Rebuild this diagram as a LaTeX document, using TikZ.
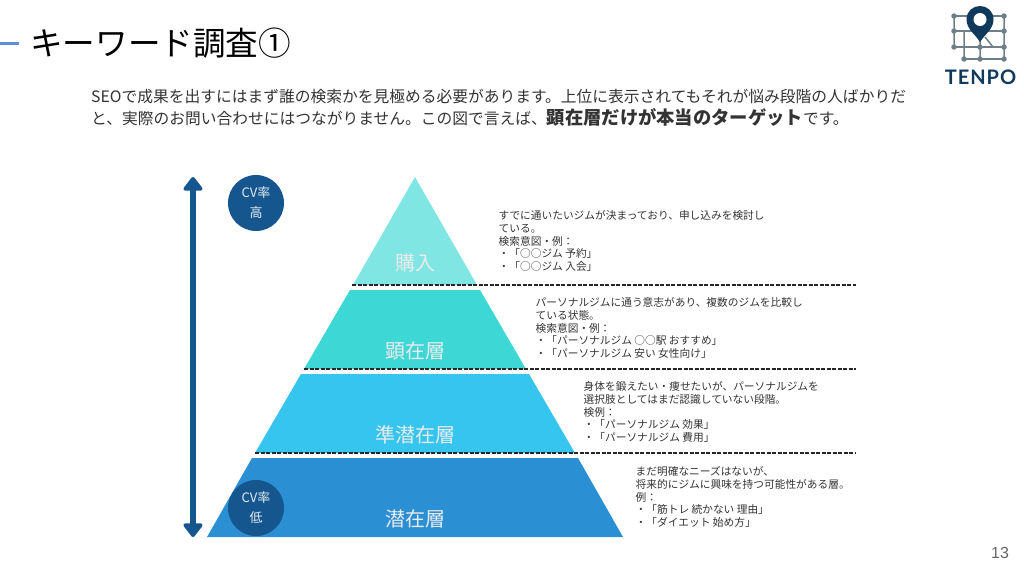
\documentclass[tikz,border=0pt]{standalone}
\usepackage{fontspec}
\setmainfont{Noto Sans CJK JP}
\newfontfamily\logofont[LetterSpace=5]{Lato}
\newfontfamily\numfont{Liberation Sans}
\usetikzlibrary{arrows.meta}
\definecolor{navy}{HTML}{15568F}
\definecolor{logoblue}{HTML}{0F3A5C}
\definecolor{logogray}{HTML}{6F7F88}
\definecolor{rulecolor}{HTML}{5B8FDB}
\definecolor{tierA}{HTML}{7FE6E3}
\definecolor{tierB}{HTML}{3DD7D6}
\definecolor{tierC}{HTML}{35C5EE}
\definecolor{tierD}{HTML}{2B8FD3}
\definecolor{bodygray}{HTML}{333333}
\tikzset{
	tierlabel/.style={text=white!92!black,font=\fontsize{20}{20}\selectfont,inner sep=0pt},
	infotext/.style={anchor=west,align=left,inner sep=0pt,text=bodygray,font=\fontsize{10.7}{12.8}\selectfont},
	cvbadge/.style={circle,fill=navy,minimum size=56pt,inner sep=0pt,align=center,text=white!88!navy,font=\fontsize{13}{20}\selectfont},
	tierline/.style={dash pattern=on 4pt off 1.5pt,line width=1.2pt,black!85},
	griddot/.style={circle,fill=logogray,minimum size=5.5pt,inner sep=0pt},
	gridline/.style={logogray,line width=1.5pt}
}
\begin{document}
\begin{tikzpicture}[x=1pt,y=-1pt]
	\useasboundingbox (0,0) rectangle (1024,576);
% heading
\coordinate (ruleA) at (0,43);
\coordinate (ruleB) at (19,43);
\draw[rulecolor,line width=3pt] (ruleA) -- (ruleB);
\node[anchor=west,inner sep=0pt,font=\fontsize{32.6}{32.6}\selectfont] (title) at (30,43) {キーワード調査①};
\node[anchor=west,align=left,inner sep=0pt,text=bodygray,font=\fontsize{15.75}{21.5}\selectfont] (lead) at (91,108) {SEOで成果を出すにはまず誰の検索かを見極める必要があります。上位に表示されてもそれが悩み段階の人ばかりだ\\と、実際のお問い合わせにはつながりません。この図で言えば、{\fontsize{18.3}{21.5}\selectfont\textbf{顕在層だけが本当のターゲット}}です。};
% pyramid
\fill[tierA] (415,177) -- (477,285) -- (353,285) -- cycle;
\fill[tierB] (350,290) -- (480,290) -- (526,369) -- (304,369) -- cycle;
\fill[tierC] (301,374) -- (529,374) -- (575,453) -- (255,453) -- cycle;
\fill[tierD] (252,458) -- (578,458) -- (623,537) -- (207,537) -- cycle;
\node[tierlabel] (kounyu) at (415,263) {購入};
\node[tierlabel] (kenzai) at (415,351) {顕在層};
\node[tierlabel] (junsenzai) at (415,435) {準潜在層};
\node[tierlabel] (senzai) at (415,519) {潜在層};
% dashed separators
\coordinate (lineAl) at (352,285);
\coordinate (lineAr) at (856,285);
\coordinate (lineBl) at (304,369);
\coordinate (lineBr) at (856,369);
\coordinate (lineCl) at (255,453);
\coordinate (lineCr) at (856,453);
\draw[tierline] (lineAl) -- (lineAr);
\draw[tierline] (lineBl) -- (lineBr);
\draw[tierline] (lineCl) -- (lineCr);
% CV axis
\coordinate (axistop) at (193,177);
\coordinate (axisbot) at (193,537);
\draw[navy,line width=5.5pt,{Triangle[round,length=15pt,width=22pt]}-{Triangle[round,length=15pt,width=22pt]}] (axistop) -- (axisbot);
\node[cvbadge] (cvhigh) at (256,203) {CV率\\高};
\node[cvbadge] (cvlow) at (256,508) {CV率\\低};
% descriptions
\node[infotext] (infoA) at (498.5,241) {すでに通いたいジムが決まっており、申し込みを検討し\\ている。\\検索意図・例：\\・「○○ジム 予約」\\・「○○ジム 入会」};
\node[infotext] (infoB) at (535.5,328) {パーソナルジムに通う意志があり、複数のジムを比較し\\ている状態。\\検索意図・例：\\・「パーソナルジム ○○駅 おすすめ」\\・「パーソナルジム 安い 女性向け」};
\node[infotext] (infoC) at (583.5,412) {身体を鍛えたい・痩せたいが、パーソナルジムを\\選択肢としてはまだ認識していない段階。\\検例：\\・「パーソナルジム 効果」\\・「パーソナルジム 費用」};
\node[infotext] (infoD) at (635.5,497) {まだ明確なニーズはないが、\\将来的にジムに興味を持つ可能性がある層。\\例：\\・「筋トレ 続かない 理由」\\・「ダイエット 始め方」};
% logo
\draw[gridline] (954,16) -- (1004,16) (954,31) -- (1004,31) (954,47) -- (1004,47) (964,59) -- (1004,59);
\draw[gridline] (954,16) -- (954,47) (964,31) -- (964,59) (980,40) -- (980,59) (1004,16) -- (1004,59) (985,37) -- (993,47);
\foreach \dotx/\doty in {954/16,1004/16,954/31,1004/31,954/47,1004/47,964/59,980/59,1004/59,980/47}
	\node[griddot] at (\dotx,\doty) {};
\fill[logoblue] (980,42) .. controls (975,34) and (966.5,29) .. (966.5,19.5) .. controls (966.5,11) and (973,6) .. (980,6) .. controls (987,6) and (993.5,11) .. (993.5,19.5) .. controls (993.5,29) and (985,34) .. (980,42) -- cycle;
\fill[white] (980,19.5) circle[radius=6.5pt];
\node[inner sep=0pt,text=logoblue,font=\logofont\bfseries\fontsize{20}{20}\selectfont] (tenpo) at (980.5,77) {TENPO};
% page number
\node[inner sep=0pt,text=black!60,font=\numfont\fontsize{16}{16}\selectfont] (pagenum) at (1000,553) {13};
\end{tikzpicture}
\end{document}
